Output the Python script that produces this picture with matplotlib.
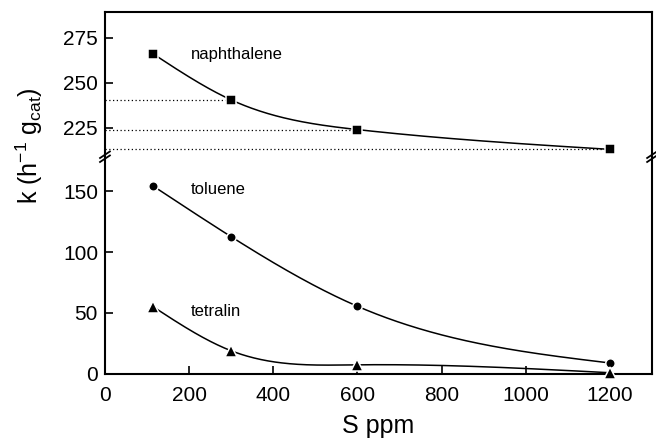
import numpy as np
import matplotlib
matplotlib.use("Agg")
import matplotlib.pyplot as plt

plt.rcParams['font.family'] = ['Liberation Sans', 'DejaVu Sans']
plt.rcParams['mathtext.fontset'] = 'custom'
plt.rcParams['mathtext.rm'] = 'Liberation Sans'
plt.rcParams['mathtext.it'] = 'Liberation Sans:italic'

# Sulfur content (ppm) and rate constants k (h^-1 g_cat)
s_ppm = [115, 300, 600, 1200]
k_naphthalene = [266, 240.5, 224, 213]
k_toluene = [154, 112.5, 55.5, 9]
k_tetralin = [55, 19, 7.5, 1]

x_ticks = [0, 200, 400, 600, 800, 1000, 1200]
y_ticks = [0, 50, 100, 150, 225, 250, 275]

# broken y axis: lower part 0..178, upper part from 209 with a larger scale
lo_top, hi_bot = 178.0, 209.0
src = np.array([-1000.0, 0.0, lo_top, hi_bot, 1000.0])
dst = np.array([-1000.0 * 1.22, 0.0, lo_top * 1.22, lo_top * 1.22 + 0.3,
                lo_top * 1.22 + 0.3 + (1000.0 - hi_bot) * 1.8])


def fwd(y):
    return np.interp(y, src, dst)


def inv(v):
    return np.interp(v, dst, src)


def natural_spline(x, y, xs):
    """Natural cubic spline through the points, evaluated at xs."""
    x = np.asarray(x, float)
    y = np.asarray(y, float)
    n = len(x)
    h = np.diff(x)
    A = np.zeros((n, n))
    r = np.zeros(n)
    A[0, 0] = A[-1, -1] = 1.0
    for i in range(1, n - 1):
        A[i, i - 1] = h[i - 1]
        A[i, i] = 2 * (h[i - 1] + h[i])
        A[i, i + 1] = h[i]
        r[i] = 6 * ((y[i + 1] - y[i]) / h[i] - (y[i] - y[i - 1]) / h[i - 1])
    M = np.linalg.solve(A, r)
    idx = np.clip(np.searchsorted(x, xs) - 1, 0, n - 2)
    hi = h[idx]
    a = x[idx + 1] - xs
    b = xs - x[idx]
    return (M[idx] * a**3 / (6 * hi) + M[idx + 1] * b**3 / (6 * hi)
            + (y[idx] / hi - M[idx] * hi / 6) * a
            + (y[idx + 1] / hi - M[idx + 1] * hi / 6) * b)


fig = plt.figure(figsize=(6.56, 4.41), dpi=100)
ax = fig.add_axes([0.160, 0.152, 0.834, 0.821])
ax.set_yscale('function', functions=(fwd, inv))

# dotted guides from the axis to the naphthalene points
for xv, yv in zip(s_ppm[1:], k_naphthalene[1:]):
    ax.plot([0, xv], [yv, yv], linestyle=(0, (1, 2)), color='black',
            linewidth=0.9, zorder=1)

xs = np.linspace(s_ppm[0], s_ppm[-1], 400)
series = [(k_naphthalene, 's', 6.8), (k_toluene, 'o', 6.8), (k_tetralin, '^', 8)]
for vals, mk, ms in series:
    ax.plot(xs, natural_spline(s_ppm, vals, xs), color='black', linewidth=1.1,
            zorder=2)
    ax.plot(s_ppm, vals, linestyle='none', marker=mk, markersize=ms,
            color='black', markeredgecolor='white', markeredgewidth=1.1,
            zorder=3, clip_on=False)

ax.text(205, 266, 'naphthalene', fontsize=12, va='center')
ax.text(205, 151, 'toluene', fontsize=12, va='center')
ax.text(205, 51, 'tetralin', fontsize=12, va='center')

ax.set_xlim(0, 1300)
ax.set_ylim(0, 289.4)
ax.set_xticks(x_ticks)
ax.set_yticks(y_ticks)
ax.tick_params(direction='in', length=6, width=1.2, labelsize=15,
               top=False, right=False)
ax.tick_params(axis='x', pad=9)
ax.tick_params(axis='y', pad=5)
for sp in ax.spines.values():
    sp.set_linewidth(1.5)

ax.set_xlabel('S ppm', fontsize=18, labelpad=6.5)
ax.set_ylabel(r'k (h$^{\mathregular{-1}}$ g$_{\mathregular{cat}}$)', fontsize=18)
ax.yaxis.set_label_coords(-0.11, 0.63)

# break marks on the left and right spines
yb = (fwd(lo_top) + 0.15 - fwd(0)) / (fwd(289.4) - fwd(0))
trans = ax.transAxes
dx, dy, gap = 0.009, 0.009, 0.011
for x0 in (0.0, 1.0):
    for off in (-gap / 2, gap / 2):
        ax.plot([x0 - dx, x0 + dx], [yb + off - dy, yb + off + dy],
                transform=trans, color='black', linewidth=1.3, clip_on=False)

fig.savefig('out.png', dpi=100)
